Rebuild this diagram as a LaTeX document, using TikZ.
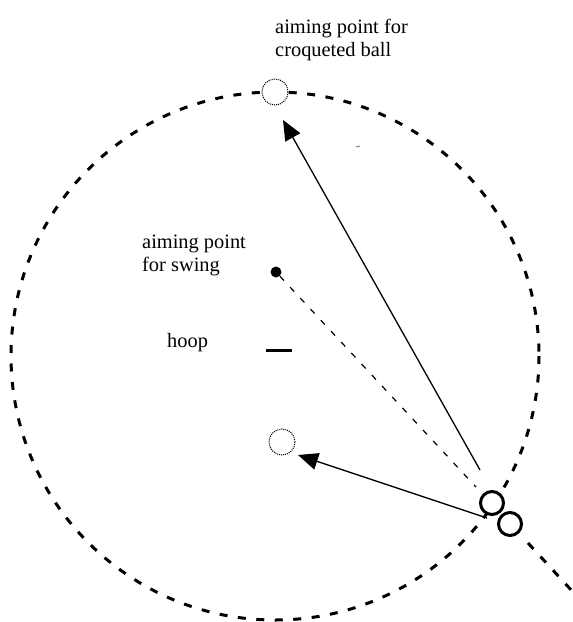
\documentclass[tikz,border=0pt]{standalone}
\usepackage{fontspec}
\setmainfont{Liberation Serif}
\usetikzlibrary{arrows.meta}
\begin{document}
\begin{tikzpicture}[x=1pt,y=-1pt,
  lbl/.style={font=\fontsize{20.4}{23.5}\selectfont, inner sep=0pt, anchor=base west},
  bigdash/.style={line width=3pt, dash pattern=on 8pt off 10.5pt},
  thindash/.style={line width=1.2pt, dash pattern=on 6pt off 9pt},
  dotcirc/.style={circle, draw, fill=white, line width=1pt, dash pattern=on 1pt off 1pt, minimum size=26pt, inner sep=0pt},
  ballst/.style={circle, draw, fill=white, line width=3pt, minimum size=23pt, inner sep=0pt},
  arr/.style={line width=1.3pt, -{Triangle[length=20pt,width=17pt]}}]
\useasboundingbox (0,0) rectangle (573,622);
% big dashed circle
\draw[bigdash] (275,356) circle[radius=264];
% targets
\node[dotcirc] (top) at (275,92) {};
\node[dotcirc] (low) at (282,442) {};
\node[circle, fill, minimum size=11pt, inner sep=0pt] (dot) at (276,272) {};
% hoop
\coordinate (h1) at (266,350);
\coordinate (h2) at (292,350);
\draw[line width=3pt] (h1) -- (h2);
% balls
\node[ballst] (b1) at (492,503) {};
\node[ballst] (b2) at (510,524) {};
% labels
\node[lbl] (t1) at (275,33) {aiming point for};
\node[lbl] (t2) at (275,56.5) {croqueted ball};
\node[lbl] (s1) at (142,248) {aiming point};
\node[lbl] (s2) at (142,271.5) {for swing};
\node[lbl] (hp) at (167,347) {hoop};
% swing line
\coordinate (se) at (476,487);
\draw[thindash] (dot) -- (se);
\coordinate (ds) at (528,543);
\coordinate (de) at (573,592);
\draw[bigdash] (ds) -- (de);
% arrows
\coordinate (a1s) at (480,470);
\coordinate (a1e) at (283,120);
\draw[arr] (a1s) -- (a1e);
\coordinate (a2s) at (487,518);
\coordinate (a2e) at (298,455);
\draw[arr] (a2s) -- (a2e);
% small mark
\coordinate (m1) at (356,147);
\coordinate (m2) at (360,146);
\draw[gray, line width=1pt] (m1) -- (m2);
\end{tikzpicture}
\end{document}
